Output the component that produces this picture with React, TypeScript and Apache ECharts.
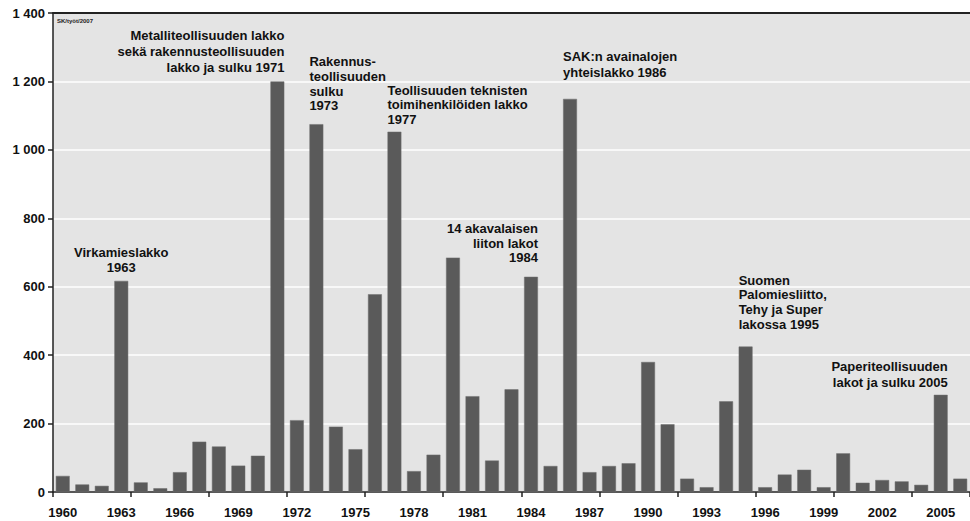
import React, { useEffect, useRef } from "react";
import * as echarts from "echarts";

const years: string[] = [];
for (let y = 1960; y <= 2006; y++) years.push(String(y));

const strikeDays: number[] = [
  47, 22, 18, 617, 28, 11, 58, 147, 133, 77,
  106, 1200, 210, 1075, 191, 125, 578, 1053, 61, 109,
  685, 280, 92, 300, 629, 76, 1149, 58, 76, 84,
  380, 198, 39, 14, 265, 425, 14, 51, 65, 14,
  113, 27, 35, 31, 21, 284, 39,
];

const yTicks: number[] = [0, 200, 400, 600, 800, 1000, 1200, 1400];

const annotationYears: string[] = ["1963", "1971", "1973", "1977", "1984", "1986", "1995", "2005"];
const annotationTexts: string[] = [
  "Virkamieslakko\n1963",
  "Metalliteollisuuden lakko\nsekä rakennusteollisuuden\nlakko ja sulku 1971",
  "Rakennus-\nteollisuuden\nsulku\n1973",
  "Teollisuuden teknisten\ntoimihenkilöiden lakko\n1977",
  "14 akavalaisen\nliiton lakot\n1984",
  "SAK:n avainalojen\nyhteislakko 1986",
  "Suomen\nPalomiesliitto,\nTehy ja Super\nlakossa 1995",
  "Paperiteollisuuden\nlakot ja sulku 2005",
];

// layout of annotation labels (alignment relative to bar, gap above bar, line height)
const annotationLayout: { align: "left" | "center" | "right"; gap: number; lh: number }[] = [
  { align: "center", gap: 6, lh: 15 },
  { align: "right", gap: 6, lh: 16 },
  { align: "left", gap: 11, lh: 14.7 },
  { align: "left", gap: 5, lh: 14.5 },
  { align: "right", gap: 12, lh: 14.5 },
  { align: "left", gap: 18, lh: 16 },
  { align: "left", gap: 15, lh: 14.7 },
  { align: "right", gap: 4, lh: 16 },
];

const FONT = "'Liberation Sans', Arial, Helvetica, sans-serif";

function fmtY(v: number): string {
  if (v >= 1000) {
    return Math.floor(v / 1000) + " " + String(v % 1000).padStart(3, "0");
  }
  return String(v);
}

export default function App() {
  const ref = useRef<HTMLDivElement>(null);

  useEffect(() => {
    if (!ref.current) return;
    const chart = echarts.init(ref.current, undefined, { renderer: "svg" });

    const halfBar = 7;
    const data = strikeDays.map((v, i) => {
      const idx = annotationYears.indexOf(years[i]);
      if (idx < 0) return v;
      const lay = annotationLayout[idx];
      const dx = lay.align === "right" ? halfBar : lay.align === "left" ? -halfBar : 0;
      return {
        value: v,
        label: {
          show: true,
          position: "top",
          distance: lay.gap,
          align: lay.align,
          offset: [dx, 0],
          lineHeight: lay.lh,
          formatter: annotationTexts[idx],
          fontFamily: FONT,
          fontWeight: "bold",
          fontSize: 13,
          color: "#111",
        },
      };
    });

    chart.setOption({
      animation: false,
      backgroundColor: "#ffffff",
      grid: {
        left: 53,
        top: 13,
        width: 921,
        bottom: 29,
        show: true,
        backgroundColor: "#e4e4e4",
        borderWidth: 0,
      },
      xAxis: [
        {
          type: "category",
          data: years,
          boundaryGap: true,
          axisLine: { show: true, lineStyle: { color: "#222", width: 1.5 } },
          axisTick: { show: true, interval: 3, length: 5, lineStyle: { color: "#222", width: 1.5 } },
          axisLabel: {
            interval: 2,
            margin: 14,
            fontFamily: FONT,
            fontWeight: "bold",
            fontSize: 13,
            color: "#111",
          },
          splitLine: { show: false },
        },
        {
          type: "category",
          data: years,
          position: "top",
          axisLine: { show: true, lineStyle: { color: "#222", width: 1.8 } },
          axisTick: { show: false },
          axisLabel: { show: false },
          splitLine: { show: false },
        },
      ],
      yAxis: {
        type: "value",
        min: yTicks[0],
        max: yTicks[yTicks.length - 1],
        interval: 200,
        axisLine: { show: true, lineStyle: { color: "#222", width: 1.5 } },
        axisTick: { show: true, length: 5, lineStyle: { color: "#222", width: 1.5 } },
        axisLabel: {
          margin: 8,
          formatter: (v: number) => fmtY(v),
          fontFamily: FONT,
          fontWeight: "bold",
          fontSize: 13,
          color: "#111",
        },
        splitLine: { show: true, lineStyle: { color: "#ffffff", width: 1.5 } },
      },
      graphic: [
        {
          type: "text",
          left: 57,
          top: 18,
          style: {
            text: "SK/työt/2007",
            fontFamily: FONT,
            fontWeight: "bold",
            fontSize: 6,
            fill: "#222",
          },
        },
      ],
      series: [
        {
          type: "bar",
          data,
          xAxisIndex: 0,
          barCategoryGap: "29%",
          itemStyle: { color: "#5a5a5a", borderColor: "#6e6e6e", borderWidth: 0.5 },
          label: { show: false },
          emphasis: { disabled: true },
        },
      ],
    });

    return () => chart.dispose();
  }, []);

  return (
    <div
      ref={ref}
      style={{ position: "absolute", left: 0, top: 0, width: 970, height: 521 }}
    />
  );
}
